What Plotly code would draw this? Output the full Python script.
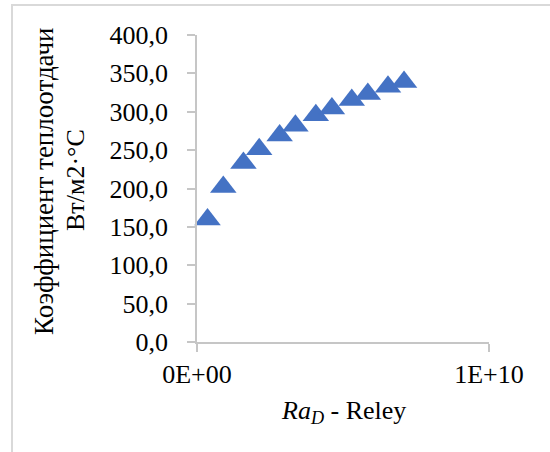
import plotly.graph_objects as go

# Data
ra_values = [0.36e9, 0.90e9, 1.59e9, 2.13e9, 2.83e9, 3.37e9,
             4.07e9, 4.62e9, 5.30e9, 5.85e9, 6.54e9, 7.09e9]
alpha_values = [159.5, 201.8, 233.3, 251.0, 269.2, 281.6,
                295.5, 304.3, 315.3, 323.1, 332.6, 338.8]

y_tickvals = [0, 50, 100, 150, 200, 250, 300, 350, 400]
y_ticktext = ["0,0", "50,0", "100,0", "150,0", "200,0", "250,0", "300,0", "350,0", "400,0"]
x_tickvals = [0, 1e10]
x_ticktext = ["0E+00", "1E+10"]

y_title_line1 = "Коэффициент теплоотдачи"
y_title_line2 = "Вт/м2·°С"
x_title = "<i>Ra</i><sub><i>D</i></sub> - Reley"

FONT = "Liberation Serif"
FS = 26
W, H = 550, 452
L, R, T, B = 197, 61, 35, 110
PW, PH = W - L - R, H - T - B


def px_x(px):
    return (px - L) / PW


def px_y(py):
    return (H - B - py) / PH


fig = go.Figure()
fig.add_trace(go.Scatter(
    x=ra_values, y=alpha_values, mode="markers",
    marker=dict(symbol="triangle-up", size=23, color="#4472C4",
                line=dict(width=0)),
    showlegend=False, cliponaxis=False,
))

axis_color = "#c6c6c6"
tfont = dict(family=FONT, size=FS, color="#000000")
fig.update_layout(
    width=W, height=H,
    margin=dict(l=L, r=R, t=T, b=B),
    paper_bgcolor="white", plot_bgcolor="white",
    font=tfont,
    xaxis=dict(range=[0, 1e10], tickvals=x_tickvals, ticktext=x_ticktext,
               showgrid=False, zeroline=False, showline=True,
               linecolor=axis_color, linewidth=1.5,
               ticks="outside", ticklen=8, tickwidth=1.5, tickcolor=axis_color,
               tickfont=tfont),
    yaxis=dict(range=[0, 400], tickvals=y_tickvals, ticktext=y_ticktext,
               showgrid=False, zeroline=False, showline=True,
               linecolor=axis_color, linewidth=1.5,
               ticks="outside", ticklen=8, tickwidth=1.5, tickcolor=axis_color,
               ticklabelstandoff=14,
               tickfont=tfont),
    shapes=[dict(type="rect", xref="paper", yref="paper",
                 x0=px_x(12), x1=px_x(570), y0=px_y(470), y1=px_y(5),
                 line=dict(color="#d9d9d9", width=2), fillcolor="rgba(0,0,0,0)",
                 layer="below")],
    annotations=[
        dict(text=y_title_line1, xref="paper", yref="paper",
             x=px_x(44), y=px_y(181), xanchor="center", yanchor="middle",
             textangle=-90, showarrow=False,
             font=dict(family=FONT, size=27, color="#000000")),
        dict(text=y_title_line2, xref="paper", yref="paper",
             x=px_x(75), y=px_y(180), xanchor="center", yanchor="middle",
             textangle=-90, showarrow=False, font=tfont),
        dict(text=x_title, xref="paper", yref="paper",
             x=px_x(343), y=px_y(412), xanchor="center", yanchor="middle",
             showarrow=False, font=tfont),
    ],
)

fig.write_html("out.html", config={"displayModeBar": False},
               post_script="document.body.style.margin='0';")
